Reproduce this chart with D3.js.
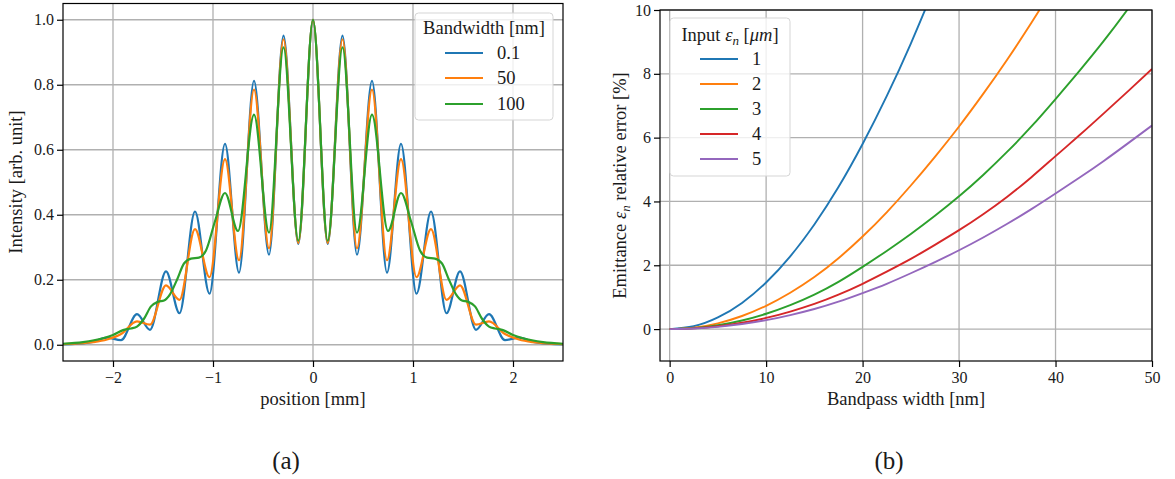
<!DOCTYPE html>
<html><head><meta charset="utf-8">
<script src="https://cdn.jsdelivr.net/npm/d3@7"></script>
<style>
html,body{margin:0;padding:0;background:#fff;}
svg{display:block;}
text{font-family:"Liberation Serif","Times New Roman",serif;fill:#1a1a1a;white-space:pre;}
</style></head><body>
<svg id="fig" width="1175" height="479"></svg>
<script>
// ---------- panel (a): intensity profile vs position ----------
const bandwidthLabels = ["0.1", "50", "100"];
// extrema positions shared by the 0.1 nm and 50 nm profiles [mm]
const fringeX = [-2.5,-2.35,-2.2,-2.06,-1.92,-1.76,-1.63,-1.47,-1.335,-1.18,-1.035,-0.88,-0.74,-0.59,-0.44,-0.295,-0.147,0,
                 0.147,0.295,0.44,0.59,0.74,0.88,1.035,1.18,1.335,1.47,1.63,1.76,1.92,2.06,2.2,2.35,2.5];
const intensityBw01 = [0.001,0.003,0.009,0.022,0.014,0.094,0.046,0.226,0.097,0.41,0.157,0.618,0.222,0.812,0.277,0.951,0.31,1.0,
                       0.31,0.951,0.277,0.812,0.222,0.618,0.157,0.41,0.097,0.226,0.046,0.094,0.014,0.022,0.009,0.003,0.001];
const intensityBw50 = [0.002,0.004,0.008,0.016,0.033,0.072,0.062,0.183,0.138,0.356,0.208,0.571,0.26,0.785,0.297,0.94,0.313,1.0,
                       0.313,0.94,0.297,0.785,0.26,0.571,0.208,0.356,0.138,0.183,0.062,0.072,0.033,0.016,0.008,0.004,0.002];
// the 100 nm profile is washed out and needs its own sampling
const smoothX = [-2.5,-2.3,-2.1,-2.0,-1.9,-1.82,-1.76,-1.69,-1.62,-1.55,-1.49,-1.43,-1.36,-1.29,-1.22,-1.14,-1.07,-0.98,-0.88,-0.75,-0.59,-0.44,-0.295,-0.147,0,
                 0.147,0.295,0.44,0.59,0.75,0.88,0.98,1.07,1.14,1.22,1.29,1.36,1.43,1.49,1.55,1.62,1.69,1.76,1.82,1.9,2.0,2.1,2.3,2.5];
const intensityBw100 = [0.003,0.008,0.02,0.03,0.045,0.05,0.056,0.08,0.118,0.132,0.136,0.155,0.2,0.25,0.265,0.268,0.29,0.38,0.467,0.35,0.708,0.345,0.915,0.32,1.0,
                        0.32,0.915,0.345,0.708,0.35,0.467,0.38,0.29,0.268,0.265,0.25,0.2,0.155,0.136,0.132,0.118,0.08,0.056,0.05,0.045,0.03,0.02,0.008,0.003];
const posTicks = [-2, -1, 0, 1, 2];
const intensityTicks = [0, 0.2, 0.4, 0.6, 0.8, 1.0];

// ---------- panel (b): emittance error vs bandpass width ----------
const emittanceLabels = ["1", "2", "3", "4", "5"];
const bandpass = [0,2.5,5,7.5,10,12.5,15,17.5,20,22.5,25,27.5,30,32.5,35,37.5,40,42.5,45,47.5,50];
const errEmit1 = [0,0.09,0.365,0.82,1.46,2.28,3.28,4.45,5.8,7.3,8.95,10.75];
const errEmit2 = [0,0.045,0.18,0.41,0.73,1.14,1.63,2.22,2.9,3.66,4.5,5.4,6.35,7.37,8.45,9.6,10.8];
const errEmit3 = [0,0.03,0.12,0.27,0.48,0.75,1.08,1.48,1.95,2.45,2.98,3.55,4.16,4.83,5.56,6.35,7.21,8.1,9.03,10.03,11.08];
const errEmit4 = [0,0.022,0.09,0.2,0.35,0.55,0.79,1.08,1.42,1.8,2.2,2.64,3.1,3.6,4.15,4.76,5.42,6.08,6.76,7.45,8.15];
const errEmit5 = [0,0.017,0.07,0.16,0.28,0.44,0.63,0.86,1.13,1.42,1.75,2.1,2.47,2.87,3.3,3.76,4.25,4.75,5.27,5.82,6.38];
const bandTicks = [0, 10, 20, 30, 40, 50];
const errTicks = [0, 2, 4, 6, 8, 10];

const colors = ["#1f77b4", "#ff7f0e", "#2ca02c", "#d62728", "#9467bd"];

const svg = d3.select("#fig");
const TICK_FS = 16, LABEL_FS = 18.5;

const xA = d3.scaleLinear().domain([-2.5, 2.5]).range([63, 563]);
const yA = d3.scaleLinear().domain([-0.05, 1.05]).range([361, 3.5]);
const xB = d3.scaleLinear().domain([-1, 50]).range([660, 1152]);
const yB = d3.scaleLinear().domain([-1, 10]).range([361, 10]);

function setupAxes(x, y, xTicks, yTicks, id) {
  const [x0, x1] = x.range(), [yb, yt] = y.range();
  svg.append("clipPath").attr("id", id).append("rect")
    .attr("x", x0).attr("y", yt).attr("width", x1 - x0).attr("height", yb - yt);
  const grid = svg.append("g").attr("stroke", "#b0b0b0").attr("stroke-width", 1.3);
  grid.selectAll(null).data(xTicks).join("line")
    .attr("x1", d => x(d)).attr("x2", d => x(d)).attr("y1", yt).attr("y2", yb);
  grid.selectAll(null).data(yTicks).join("line")
    .attr("y1", d => y(d)).attr("y2", d => y(d)).attr("x1", x0).attr("x2", x1);
  return svg.append("g").attr("clip-path", `url(#${id})`);
}

function finishAxes(x, y, xTicks, yTicks, xFmt, yFmt) {
  const [x0, x1] = x.range(), [yb, yt] = y.range();
  const ax = svg.append("g").attr("transform", `translate(0,${yb})`)
    .call(d3.axisBottom(x).tickValues(xTicks).tickFormat(xFmt).tickSize(6).tickPadding(5).tickSizeOuter(0));
  const ay = svg.append("g").attr("transform", `translate(${x0},0)`)
    .call(d3.axisLeft(y).tickValues(yTicks).tickFormat(yFmt).tickSize(6).tickPadding(3).tickSizeOuter(0));
  [ax, ay].forEach(a => {
    a.select(".domain").remove();
    a.selectAll("line").attr("stroke", "#000").attr("stroke-width", 1.2);
    a.selectAll("text").style("font-size", TICK_FS + "px");
  });
  svg.append("rect").attr("x", x0).attr("y", yt).attr("width", x1 - x0).attr("height", yb - yt)
    .attr("fill", "none").attr("stroke", "#000").attr("stroke-width", 1.2);
}

// ----- panel (a)
const plotA = setupAxes(xA, yA, posTicks, intensityTicks, "clipA");
const lineA = d3.line().x(d => xA(d[0])).y(d => yA(d[1])).curve(d3.curveMonotoneX);
const seriesA = [
  d3.zip(fringeX, intensityBw01),
  d3.zip(fringeX, intensityBw50),
  d3.zip(smoothX, intensityBw100)
];
plotA.selectAll(null).data(seriesA).join("path")
  .attr("d", lineA).attr("fill", "none")
  .attr("stroke", (d, i) => colors[i]).attr("stroke-width", 2.2);
finishAxes(xA, yA, posTicks, intensityTicks, d3.format("d"), d3.format(".1f"));

// ----- panel (b)
const plotB = setupAxes(xB, yB, bandTicks, errTicks, "clipB");
const lineB = d3.line().x(d => xB(d[0])).y(d => yB(d[1])).curve(d3.curveNatural);
const seriesB = [errEmit1, errEmit2, errEmit3, errEmit4, errEmit5].map(v => d3.zip(bandpass.slice(0, v.length), v));
plotB.selectAll(null).data(seriesB).join("path")
  .attr("d", lineB).attr("fill", "none")
  .attr("stroke", (d, i) => colors[i]).attr("stroke-width", 1.9);
finishAxes(xB, yB, bandTicks, errTicks, d3.format("d"), d3.format("d"));

// ----- axis labels
function label(x, y, txt, rot) {
  const t = svg.append("text").attr("text-anchor", "middle").style("font-size", LABEL_FS + "px")
    .attr("transform", `translate(${x},${y})` + (rot ? " rotate(-90)" : ""));
  if (typeof txt === "string") t.text(txt);
  else txt(t);
  return t;
}
label(313, 405, "position [mm]");
label(22, 182, "Intensity [arb. unit]", true);
label(906, 405, "Bandpass width [nm]");
label(626, 185.5, t => {
  t.append("tspan").text("Emittance ");
  t.append("tspan").style("font-style", "italic").text("ε");
  t.append("tspan").style("font-style", "italic").style("font-size", "13px").attr("dy", 4).text("n");
  t.append("tspan").attr("dy", -4).text(" relative error [%]");
}, true);

svg.append("text").attr("x", 286).attr("y", 469).attr("text-anchor", "middle").style("font-size", "25px").text("(a)");
svg.append("text").attr("x", 889).attr("y", 469).attr("text-anchor", "middle").style("font-size", "25px").text("(b)");

// ----- legends
function legend(box, titleFn, labels, rowY, lineX, textX) {
  const g = svg.append("g");
  g.append("rect").attr("x", box[0]).attr("y", box[1]).attr("width", box[2]).attr("height", box[3])
    .attr("rx", 3.5).attr("fill", "#fff").attr("fill-opacity", 0.8)
    .attr("stroke", "#d5d5d5").attr("stroke-width", 1);
  titleFn(g.append("text").attr("text-anchor", "middle").style("font-size", LABEL_FS + "px"));
  labels.forEach((lab, i) => {
    g.append("line").attr("x1", lineX[0]).attr("x2", lineX[1]).attr("y1", rowY[i]).attr("y2", rowY[i])
      .attr("stroke", colors[i]).attr("stroke-width", 2.2);
    g.append("text").attr("x", textX).attr("y", rowY[i] + 6).style("font-size", LABEL_FS + "px").text(lab);
  });
}
legend([415, 13, 138, 107],
  t => t.attr("x", 484).attr("y", 34).text("Bandwidth [nm]"),
  bandwidthLabels, [53, 78, 104], [445, 483], 497);
legend([670, 18, 120, 158],
  t => {
    t.attr("x", 730).attr("y", 41);
    t.append("tspan").text("Input ");
    t.append("tspan").style("font-style", "italic").text("ε");
    t.append("tspan").style("font-style", "italic").style("font-size", "13px").attr("dy", 4).text("n");
    t.append("tspan").attr("dy", -4).text(" [");
    t.append("tspan").style("font-style", "italic").text("μm");
    t.append("tspan").text("]");
  },
  emittanceLabels, [59, 84, 109, 134, 159], [700, 738], 752);
</script>
</body></html>
